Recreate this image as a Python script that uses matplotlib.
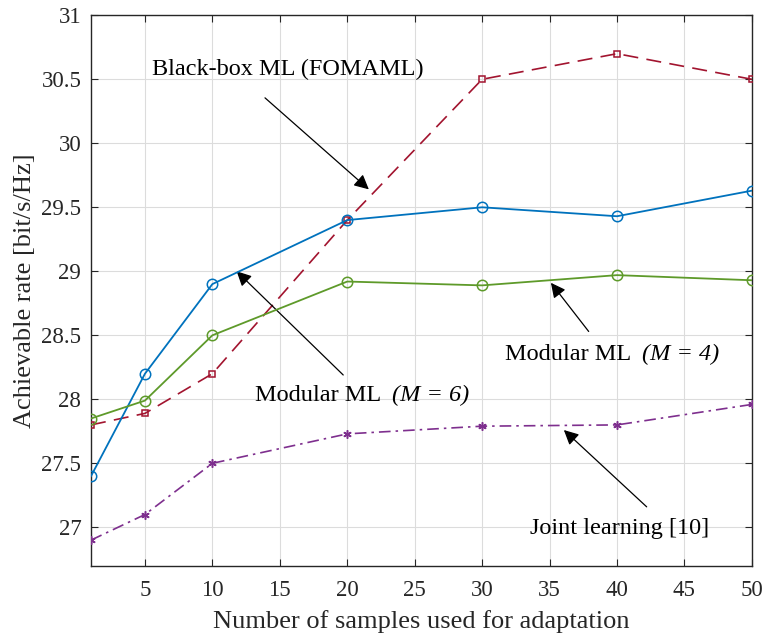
import matplotlib
matplotlib.use("Agg")
import matplotlib.pyplot as plt

plt.rcParams['font.family'] = ['Liberation Serif', 'DejaVu Serif']

samples = [1, 5, 10, 20, 30, 40, 50]
modular_m6 = [27.4, 28.2, 28.9, 29.4, 29.5, 29.43, 29.63]
modular_m4 = [27.85, 27.99, 28.5, 28.92, 28.89, 28.97, 28.93]
fomaml = [27.8, 27.89, 28.2, 29.4, 30.5, 30.7, 30.5]
joint = [26.9, 27.1, 27.5, 27.73, 27.79, 27.8, 27.96]

xticks = [5, 10, 15, 20, 25, 30, 35, 40, 45, 50]
yticks = [27, 27.5, 28, 28.5, 29, 29.5, 30, 30.5, 31]

fig = plt.figure(figsize=(7.68, 6.34), dpi=100)
ax = fig.add_axes([0.1185, 0.1077, 0.8605, 0.8682])

ax.plot(samples, fomaml, color='#A2142F', linestyle=(0, (9, 5)), lw=1.2,
        marker='s', markersize=4.5, markerfacecolor='none', markeredgewidth=1.1, zorder=3)
ax.plot(samples, modular_m6, color='#0072BD', linestyle='-', lw=1.3,
        marker='o', markersize=7.5, markerfacecolor='none', markeredgewidth=1.1, zorder=4)
ax.plot(samples, modular_m4, color='#5E9A2A', linestyle='-', lw=1.3,
        marker='o', markersize=7.5, markerfacecolor='none', markeredgewidth=1.1, zorder=4)
ax.plot(samples, joint, color='#7E2F8E', linestyle=(0, (7, 3, 1.5, 3)), lw=1.2,
        marker=(6, 2, 0), markersize=6, markeredgewidth=1.1, zorder=3)

ax.set_xlim(1, 50)
ax.set_ylim(26.7, 31)
ax.set_xticks(xticks)
ax.set_yticks(yticks)
ax.set_yticklabels([f"{v:g}" for v in yticks])
ax.tick_params(direction='in', top=True, right=True, labelsize=16.5, length=5,
               color='#262626', labelcolor='#262626')
ax.tick_params(axis='x', pad=10)
ax.tick_params(axis='y', pad=7)
ax.grid(True, color='#dcdcdc', lw=0.8)
ax.set_axisbelow(True)
for s in ax.spines.values():
    s.set_color('#262626')
    s.set_linewidth(1.0)

ax.set_xlabel('Number of samples used for adaptation', fontsize=19, color='#262626', labelpad=7)
ax.set_ylabel('Achievable rate [bit/s/Hz]', fontsize=19, color='#262626', labelpad=4)

arrow = dict(arrowstyle='-|>', color='black', lw=0.9, mutation_scale=22, shrinkA=0, shrinkB=0)
fs = 17.5

ax.text(5.52, 30.534, 'Black-box ML (FOMAML)', fontsize=fs, ha='left', va='baseline')
ax.annotate('', xy=(21.6, 29.64), xytext=(13.9, 30.355), arrowprops=arrow)

ax.text(13.16, 27.986, 'Modular ML', fontsize=fs, ha='left', va='baseline')
ax.text(23.31, 27.986, '(M = 6)', fontsize=fs, ha='left', va='baseline', style='italic')
ax.annotate('', xy=(11.8, 29.0), xytext=(19.7, 28.19), arrowprops=arrow)

ax.text(31.69, 28.306, 'Modular ML', fontsize=fs, ha='left', va='baseline')
ax.text(41.85, 28.306, '(M = 4)', fontsize=fs, ha='left', va='baseline', style='italic')
ax.annotate('', xy=(35.1, 28.91), xytext=(37.9, 28.53), arrowprops=arrow)

ax.text(33.54, 26.946, 'Joint learning [10]', fontsize=fs, ha='left', va='baseline')
ax.annotate('', xy=(36.06, 27.76), xytext=(42.2, 27.16), arrowprops=arrow)

fig.savefig('out.png', dpi=100)
